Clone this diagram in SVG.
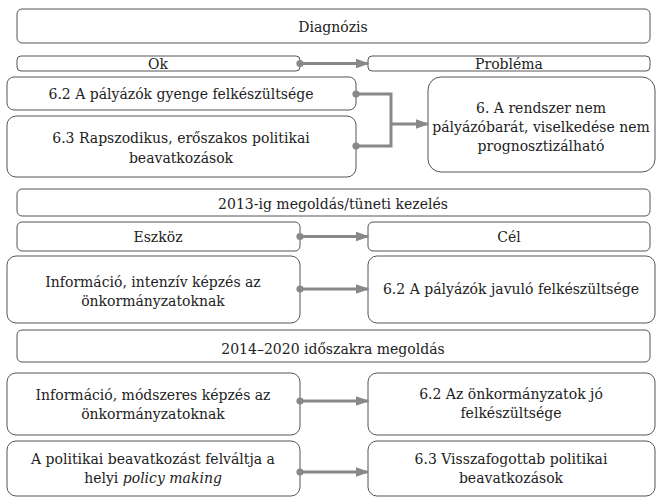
<svg xmlns="http://www.w3.org/2000/svg" width="657" height="498" viewBox="0 0 657 498">
<style>
.b{fill:#fff;stroke:#555;stroke-width:1}
text{font-family:"DejaVu Serif","Liberation Serif",serif;font-size:14px;fill:#222;text-anchor:middle}
.c{fill:none;stroke:#888;stroke-width:3}
</style>
<defs>
<marker id="ah" markerWidth="4.5" markerHeight="3.2" refX="4" refY="1.6" orient="auto" markerUnits="strokeWidth"><path d="M0,0 L4.5,1.6 L0,3.2 Z" fill="#888"/></marker>
<marker id="dot" markerWidth="3" markerHeight="3" refX="1.5" refY="1.5" orient="auto" markerUnits="strokeWidth"><circle cx="1.5" cy="1.5" r="1.2" fill="#888"/></marker>
</defs>
<rect width="657" height="498" fill="#fff"/>
<g id="diagnozis"><rect class="b" x="17" y="9" width="633" height="34" rx="5"/><text x="333" y="32">Diagnózis</text></g>
<g id="ok"><rect class="b" x="17" y="56" width="283" height="15" rx="4"/><text x="158" y="68.5">Ok</text></g>
<g id="problema"><rect class="b" x="368" y="56" width="282" height="15" rx="4"/><text x="509" y="68.5">Probléma</text></g>
<g id="ok62"><rect class="b" x="7" y="77" width="349" height="33" rx="7"/><text x="181" y="98.5">6.2 A pályázók gyenge felkészültsége</text></g>
<g id="ok63"><rect class="b" x="7" y="116" width="349" height="61" rx="9"/><text x="181" y="143">6.3 Rapszodikus, erőszakos politikai</text><text x="181" y="163">beavatkozások</text></g>
<g id="prob6"><rect class="b" x="428" y="77" width="227" height="95" rx="13"/><text x="541" y="113">6. A rendszer nem</text><text x="541" y="132">pályázóbarát, viselkedése nem</text><text x="541" y="151">prognosztizálható</text></g>
<g id="megoldas2013"><rect class="b" x="17" y="189" width="633" height="27" rx="5"/><text x="333" y="209">2013-ig megoldás/tüneti kezelés</text></g>
<g id="eszkoz"><rect class="b" x="17" y="222" width="283" height="29" rx="5"/><text x="158" y="242">Eszköz</text></g>
<g id="cel"><rect class="b" x="368" y="222" width="282" height="29" rx="5"/><text x="509" y="242">Cél</text></g>
<g id="info1"><rect class="b" x="7" y="256" width="293" height="67" rx="9"/><text x="153" y="287">Információ, intenzív képzés az</text><text x="153" y="306">önkormányzatoknak</text></g>
<g id="cel1"><rect class="b" x="368" y="256" width="287" height="67" rx="9"/><text x="511" y="294">6.2 A pályázók javuló felkészültsége</text></g>
<g id="megoldas2014"><rect class="b" x="17" y="330" width="633" height="32" rx="5"/><text x="333" y="354">2014–2020 időszakra megoldás</text></g>
<g id="info2"><rect class="b" x="7" y="373" width="293" height="62" rx="9"/><text x="153" y="400">Információ, módszeres képzés az</text><text x="153" y="419">önkormányzatoknak</text></g>
<g id="cel2"><rect class="b" x="368" y="373" width="287" height="62" rx="9"/><text x="511" y="399">6.2 Az önkormányzatok jó</text><text x="511" y="418">felkészültsége</text></g>
<g id="pol"><rect class="b" x="7" y="441" width="293" height="55" rx="9"/><text x="153" y="464">A politikai beavatkozást felváltja a</text><text x="153" y="483">helyi <tspan font-style="italic">policy making</tspan></text></g>
<g id="cel3"><rect class="b" x="368" y="441" width="287" height="55" rx="9"/><text x="511" y="464">6.3 Visszafogottab politikai</text><text x="511" y="483">beavatkozások</text></g>
<g id="connectors">
<path class="c" d="M300,63.5 H368" marker-start="url(#dot)" marker-end="url(#ah)"/>
<path class="c" d="M356,94 H391 V146 H356" marker-start="url(#dot)" marker-end="url(#dot)"/>
<path class="c" d="M391,124 H428" marker-end="url(#ah)"/>
<path class="c" d="M300,236.5 H368" marker-start="url(#dot)" marker-end="url(#ah)"/>
<path class="c" d="M300,289 H368" marker-start="url(#dot)" marker-end="url(#ah)"/>
<path class="c" d="M300,401 H368" marker-start="url(#dot)" marker-end="url(#ah)"/>
<path class="c" d="M300,472 H368" marker-start="url(#dot)" marker-end="url(#ah)"/>
</g>
</svg>
